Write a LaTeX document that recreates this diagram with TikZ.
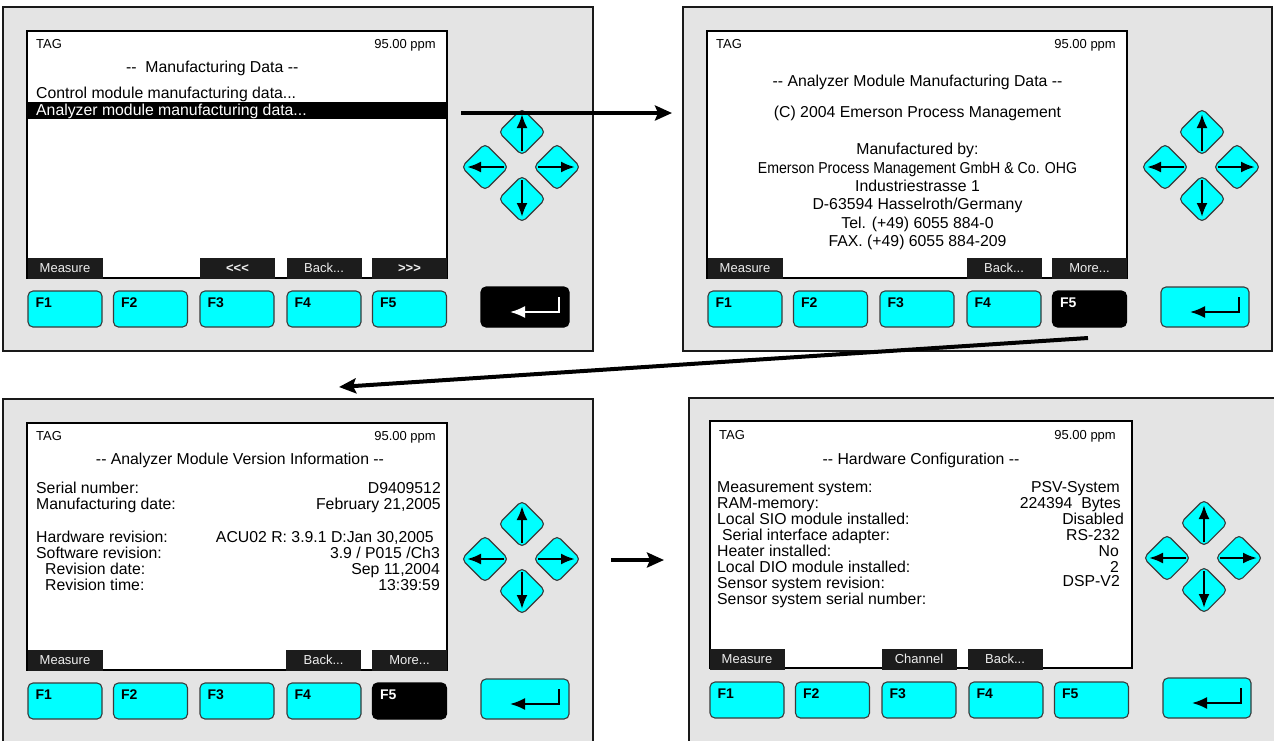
\documentclass[tikz,border=0pt]{standalone}
\usepackage{graphicx}
\usepackage{fontspec}
\setmainfont{Liberation Sans}[Ligatures=TeXOff]
\usetikzlibrary{arrows.meta}

\definecolor{panelgray}{HTML}{E4E4E4}
\definecolor{keycyan}{HTML}{00FFFF}
\definecolor{tabdark}{HTML}{1C1C1C}
\definecolor{tabtext}{HTML}{EEEEEE}
\definecolor{keyedge}{HTML}{3A3A3A}

\tikzset{
  panelbox/.style={fill=panelgray, draw=black!90, line width=2.2pt},
  screenbox/.style={fill=white, draw=black, line width=2.8pt},
  fkey/.style={fill=keycyan, draw=keyedge, line width=1.1pt, rounded corners=5pt,
    minimum width=74pt, minimum height=36pt, inner sep=0pt},
  fkeyon/.style={fkey, fill=black, draw=black},
  enterkey/.style={fkey, minimum width=88pt, minimum height=40pt},
  enterkeyon/.style={enterkey, fill=black, draw=black},
  keylabel/.style={font=\fontsize{14}{14}\selectfont\bfseries, anchor=base west, inner sep=0pt},
  tabbox/.style={fill=tabdark, draw=none, minimum width=75pt, minimum height=20.5pt, inner sep=0pt},
  tablabel/.style={font=\fontsize{13}{13}\selectfont, text=tabtext, anchor=base, inner sep=0pt},
  smalltxt/.style={font=\fontsize{13}{13}\selectfont, inner sep=0pt},
  bodytxt/.style={font=\fontsize{15.8}{16}\selectfont, inner sep=0pt},
  navkey/.style={fill=keycyan, draw=keyedge, line width=1.1pt, rounded corners=5pt},
  navarrow/.style={line width=2.4pt, -{Latex[length=14pt,width=11pt]}},
  enterarrow/.style={line width=2pt, -{Latex[length=15pt,width=12pt]}},
  flow/.style={line width=4pt, -{Stealth[length=17pt,width=15pt,inset=3pt]}},
}

% rounded diamond cursor key with its arrow: #1 centre, #2 tail, #3 tip
\newcommand\navbutton[3]{%
  \begin{scope}[shift={(#1)}]
    \draw[navkey] (11.75,-11.75) -- (23.5,0) -- (0,23.5) -- (-23.5,0) -- (0,-23.5) -- cycle;
    \draw[navarrow] (#2) -- (#3);
  \end{scope}}

% function keys, enter key and cursor keys of one unit
% #1 name prefix, #2 F5 key style, #3 F5 label colour, #4 enter key style, #5 enter arrow colour
\newcommand\devicekeys[5]{%
  \foreach \k/\cx in {1/65,2/150.5,3/237,4/324} {
    \node[fkey] (#1f\k) at (\cx,309) {};
    \node[keylabel] (#1f\k lbl) at ([shift={(8,17)}]#1f\k.north west) {F\k};
  }
  \node[#2] (#1f5) at (409.5,309) {};
  \node[keylabel, text=#3] (#1f5lbl) at ([shift={(8,17)}]#1f5.north west) {F5};
  \node[#4] (#1ent) at (525,307) {};
  \draw[enterarrow, draw=#5] ([shift={(34,-10)}]#1ent.center) -- ++(0,15) -- ++(-49,0);
  \navbutton{522,132}{0,19}{0,-18}
  \navbutton{485,167}{19,0}{-18,0}
  \navbutton{557,167}{-19,0}{18,0}
  \navbutton{522,199}{0,-19}{0,18}
}

% soft-key tab: #1 name, #2 centre x, #3 label
\newcommand\softtab[3]{%
  \node[tabbox] (#1) at (#2,268.5) {};
  \node[tablabel] (#1lbl) at (#2,272.5) {#3};
}

\begin{document}
\begin{tikzpicture}[x=1pt, y=-1pt]
\useasboundingbox (0,0) rectangle (1274,740);
\clip (0,0) rectangle (1274,740);

% ---------- unit 1: manufacturing data menu ----------
\begin{scope}
  \draw[panelbox] (3,7) rectangle (593,351);
  \draw[screenbox] (27,31) rectangle (447,278);
  \node[smalltxt, anchor=base west] (p1tag) at (36,48) {TAG};
  \node[smalltxt, anchor=base east] (p1ppm) at (436,48) {95.00 ppm};
  \node[bodytxt, anchor=base west] (p1title) at (126,72) {-- \ Manufacturing Data --};
  \node[bodytxt, anchor=base west] (p1item1) at (36,98) {Control module manufacturing data...};
  \fill[black] (27,102) rectangle (447,118.5);
  \node[bodytxt, anchor=base west, text=white] (p1item2) at (36,115) {Analyzer module manufacturing data...};
  \softtab{p1tab1}{65}{Measure}
  \softtab{p1tab3}{237.5}{\bfseries <<<}
  \softtab{p1tab4}{324}{Back...}
  \softtab{p1tab5}{409.5}{\bfseries >>>}
  \devicekeys{p1}{fkey}{black}{enterkeyon}{white}
\end{scope}

% ---------- unit 2: analyzer module manufacturing data ----------
\begin{scope}[shift={(680,0)}]
  \draw[panelbox] (3,7) rectangle (592,351);
  \draw[screenbox] (27,31) rectangle (447,278);
  \node[smalltxt, anchor=base west] (p2tag) at (36,48) {TAG};
  \node[smalltxt, anchor=base east] (p2ppm) at (436,48) {95.00 ppm};
  \node[bodytxt, anchor=base] (p2title) at (237.5,86) {-- Analyzer Module Manufacturing Data --};
  \node[bodytxt, anchor=base] (p2copy) at (237.5,117) {(C) 2004 Emerson Process Management};
  \node[bodytxt, anchor=base] (p2by) at (237.5,154) {Manufactured by:};
  \node[bodytxt, anchor=base] (p2firm) at (237.5,173) {\scalebox{0.894}[1]{Emerson Process Management GmbH \& Co. OHG}};
  \node[bodytxt, anchor=base] (p2street) at (237.5,191) {Industriestrasse 1};
  \node[bodytxt, anchor=base] (p2town) at (237.5,209) {D-63594 Hasselroth/Germany};
  \node[bodytxt, anchor=base] (p2tel) at (237.5,228) {Tel. (+49) 6055 884-0};
  \node[bodytxt, anchor=base] (p2fax) at (237.5,246) {FAX. (+49) 6055 884-209};
  \softtab{p2tab1}{65}{Measure}
  \softtab{p2tab4}{324}{Back...}
  \softtab{p2tab5}{409.5}{More...}
  \devicekeys{p2}{fkeyon}{white}{enterkey}{black}
\end{scope}

% ---------- unit 3: analyzer module version information ----------
\begin{scope}[shift={(0,392)}]
  \draw[panelbox] (3,7) rectangle (593,380);
  \draw[screenbox] (27,31) rectangle (447,278);
  \node[smalltxt, anchor=base west] (p3tag) at (36,48) {TAG};
  \node[smalltxt, anchor=base east] (p3ppm) at (436,48) {95.00 ppm};
  \node[bodytxt, anchor=base] (p3title) at (240,72) {-- Analyzer Module Version Information --};
  \node[bodytxt, anchor=base west] (p3l1) at (36,101) {Serial number:};
  \node[bodytxt, anchor=base west] (p3l2) at (36,117) {Manufacturing date:};
  \node[bodytxt, anchor=base west] (p3l3) at (36,150) {Hardware revision:};
  \node[bodytxt, anchor=base west] (p3l4) at (36,166) {Software revision:};
  \node[bodytxt, anchor=base west] (p3l5) at (45,182) {Revision date:};
  \node[bodytxt, anchor=base west] (p3l6) at (45,198) {Revision time:};
  \node[bodytxt, anchor=base east] (p3r1) at (441,101) {D9409512};
  \node[bodytxt, anchor=base east] (p3r2) at (441,117) {February 21,2005};
  \node[bodytxt, anchor=base east] (p3r3) at (434,150) {ACU02 R: 3.9.1 D:Jan 30,2005};
  \node[bodytxt, anchor=base east] (p3r4) at (440,166) {3.9 / P015 /Ch3};
  \node[bodytxt, anchor=base east] (p3r5) at (440,182) {Sep 11,2004};
  \node[bodytxt, anchor=base east] (p3r6) at (440,198) {13:39:59};
  \softtab{p3tab1}{65}{Measure}
  \softtab{p3tab4}{323.5}{Back...}
  \softtab{p3tab5}{409.5}{More...}
  \devicekeys{p3}{fkeyon}{white}{enterkey}{black}
\end{scope}

% ---------- unit 4: hardware configuration ----------
\begin{scope}[shift={(682,391)}]
  \draw[panelbox] (7,7) rectangle (620,380);
  \draw[screenbox] (28,30) rectangle (450,277);
  \node[smalltxt, anchor=base west] (p4tag) at (37,48) {TAG};
  \node[smalltxt, anchor=base east] (p4ppm) at (434,48) {95.00 ppm};
  \node[bodytxt, anchor=base] (p4title) at (239,73) {-- Hardware Configuration --};
  \node[bodytxt, anchor=base west] (p4l1) at (35,101) {Measurement system:};
  \node[bodytxt, anchor=base west] (p4l2) at (35,117) {RAM-memory:};
  \node[bodytxt, anchor=base west] (p4l3) at (35,133) {Local SIO module installed:};
  \node[bodytxt, anchor=base west] (p4l4) at (40,149) {Serial interface adapter:};
  \node[bodytxt, anchor=base west] (p4l5) at (35,165) {Heater installed:};
  \node[bodytxt, anchor=base west] (p4l6) at (35,181) {Local DIO module installed:};
  \node[bodytxt, anchor=base west] (p4l7) at (35,197) {Sensor system revision:};
  \node[bodytxt, anchor=base west] (p4l8) at (35,213) {Sensor system serial number:};
  \node[bodytxt, anchor=base east] (p4r1) at (438,101) {PSV-System};
  \node[bodytxt, anchor=base east] (p4r2) at (439,117) {224394 \ Bytes};
  \node[bodytxt, anchor=base east] (p4r3) at (442,133) {Disabled};
  \node[bodytxt, anchor=base east] (p4r4) at (438,149) {RS-232};
  \node[bodytxt, anchor=base east] (p4r5) at (437,165) {No};
  \node[bodytxt, anchor=base east] (p4r6) at (437,181) {2};
  \node[bodytxt, anchor=base east] (p4r7) at (438,195) {DSP-V2};
  \softtab{p4tab1}{65}{Measure}
  \softtab{p4tab3}{237}{Channel}
  \softtab{p4tab4}{323}{Back...}
  \devicekeys{p4}{fkey}{black}{enterkey}{black}
\end{scope}

% ---------- navigation between the screens ----------
\coordinate (go1s) at (461,113);
\coordinate (go1e) at (672,113);
\coordinate (go2s) at (1088,338);
\coordinate (go2e) at (339,387);
\coordinate (go3s) at (611,560);
\coordinate (go3e) at (664,560);
\draw[flow] (go1s) -- (go1e);
\draw[flow] (go2s) -- (go2e);
\draw[flow] (go3s) -- (go3e);
\end{tikzpicture}
\end{document}
